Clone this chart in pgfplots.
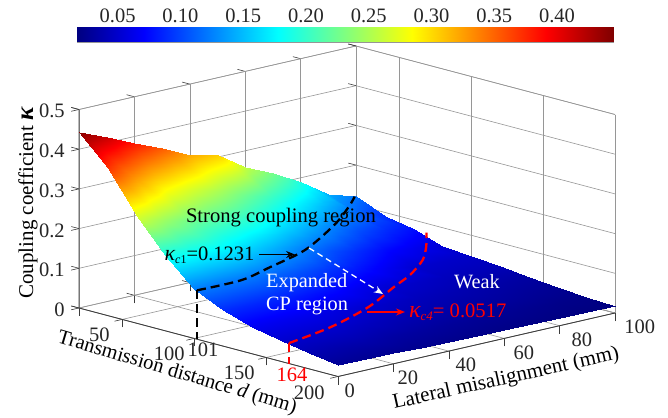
\documentclass[border=0pt]{standalone}
\usepackage{pgfplots}
\pgfplotsset{compat=1.18}
\usepackage{fontspec}
\setmainfont{Liberation Serif}
\usetikzlibrary{arrows.meta}
\definecolor{axdark}{RGB}{60,60,60}
\definecolor{wallgray}{RGB}{150,150,150}
\pgfplotsset{colormap/jet}
\newcommand{\fs}[1]{\fontsize{#1}{#1}\selectfont}
\begin{document}
\begin{tikzpicture}[x=1pt,y=1pt]
\useasboundingbox (0,0) rectangle (668,417);
\begin{axis}[
  at={(79pt,109pt)},anchor=origin,
  disabledatascaling,
  x={(1.439pt,-0.3806pt)},y={(2.77pt,0.635pt)},z={(0pt,397pt)},
  xmin=20,xmax=200,ymin=0,ymax=100,zmin=0,zmax=0.5,
  xtick={50,100,150,200},ytick={0,20,40,60,80,100},ztick={0,0.1,0.2,0.3,0.4,0.5},
  xticklabels={50,100,150,200},yticklabels={0,20,40,60,80,100},zticklabels={0,0.1,0.2,0.3,0.4,0.5},
  xtick pos=lower,ytick pos=lower,ztick pos=left,
  grid=major,
  grid style={wallgray,line width=0.6pt},
  axis line style={wallgray,line width=0.6pt},
  tick style={axdark,line width=0.6pt},
  tick align=outside,major tick length=8pt,
  tick label style={font=\fs{20.5},text=black!85},
  x tick label style={anchor=center,xshift={(-15-2*\ticknum)*1pt},yshift=-14pt},
  y tick label style={anchor=center,xshift={(4+2.6*\ticknum)*1pt},yshift=-12pt},
  z tick label style={anchor=east,xshift=-3pt},
  point meta min=0.0192,point meta max=0.4462,
  clip=false,
]
\addplot3[draw=axdark,line width=0.8pt,forget plot] coordinates {(20,0,0.5)(20,0,0)(200,0,0)(200,100,0)};
\addplot3[surf,shader=interp,mesh/rows=11,mesh/cols=10,point meta=z] coordinates {
(20,0,.443)(40,0,.372)(60,0,.27)(80,0,.19)(100,0,.125)(120,0,.09)(140,0,.067)(160,0,.053)(180,0,.04)(200,0,.028)
(20,10,.415)(40,10,.33)(60,10,.245)(80,10,.185)(100,10,.124)(120,10,.088)(140,10,.066)(160,10,.051)(180,10,.038)(200,10,.027)
(20,20,.383)(40,20,.29)(60,20,.225)(80,20,.18)(100,20,.123)(120,20,.087)(140,20,.065)(160,20,.050)(180,20,.037)(200,20,.026)
(20,30,.355)(40,30,.27)(60,30,.212)(80,30,.163)(100,30,.113)(120,30,.081)(140,30,.059)(160,30,.046)(180,30,.034)(200,30,.025)
(20,40,.322)(40,40,.25)(60,40,.20)(80,40,.145)(100,40,.105)(120,40,.075)(140,40,.053)(160,40,.042)(180,40,.032)(200,40,.024)
(20,50,.306)(40,50,.225)(60,50,.175)(80,50,.125)(100,50,.092)(120,50,.064)(140,50,.048)(160,50,.039)(180,50,.030)(200,50,.023)
(20,60,.26)(40,60,.20)(60,60,.15)(80,60,.105)(100,60,.08)(120,60,.053)(140,60,.044)(160,60,.036)(180,60,.028)(200,60,.022)
(20,70,.228)(40,70,.172)(60,70,.127)(80,70,.09)(100,70,.066)(120,70,.049)(140,70,.041)(160,70,.034)(180,70,.027)(200,70,.021)
(20,80,.19)(40,80,.145)(60,80,.105)(80,80,.075)(100,80,.052)(120,80,.045)(140,80,.038)(160,80,.032)(180,80,.025)(200,80,.02)
(20,90,.144)(40,90,.115)(60,90,.09)(80,90,.065)(100,90,.05)(120,90,.043)(140,90,.035)(160,90,.029)(180,90,.023)(200,90,.019)
(20,100,.121)(40,100,.09)(60,100,.077)(80,100,.055)(100,100,.048)(120,100,.042)(140,100,.033)(160,100,.027)(180,100,.022)(200,100,.018)
};
% contour kappa_c1
\addplot3[black,line width=2.3pt,dash pattern=on 9pt off 5pt,smooth,forget plot] coordinates {
(102,0,0.1231)(102,16,0.1231)(93,31,0.1231)(80,50.5,0.1231)(54,74.6,0.1231)(33,90.7,0.1231)(21,99,0.1231)};
\addplot3[black,line width=2.3pt,dash pattern=on 9pt off 5pt,forget plot] coordinates {(102,0,0.1231)(102,0,0)};
% contour kappa_c4
\addplot3[red,line width=2.3pt,dash pattern=on 9pt off 5pt,smooth,forget plot] coordinates {
(166,0,0.0517)(157,19.7,0.0517)(141,41.6,0.0517)(121,61.2,0.0517)(109,73.3,0.0517)(92,86.7,0.0517)(74,97.3,0.0517)(69,100,0.077)};
\addplot3[red,line width=2.3pt,dash pattern=on 9pt off 5pt,forget plot] coordinates {(166,0,0.0517)(166,0,0)};
\end{axis}
% colour bar
\begin{axis}[
  at={(77pt,375pt)},anchor=south west,
  width=536pt,height=15pt,scale only axis,
  xmin=0.0192,xmax=0.4462,ymin=0,ymax=1,
  xtick={0.05,0.10,0.15,0.20,0.25,0.30,0.35,0.40},
  xticklabels={0.05,0.10,0.15,0.20,0.25,0.30,0.35,0.40},
  ytick=\empty,
  xtick pos=upper,xticklabel pos=upper,
  tick align=inside,major tick length=5pt,
  tick style={axdark,line width=0.6pt},
  axis line style={wallgray,line width=0.8pt},
  xticklabel style={font=\fs{20.5},text=black!85,xshift=2pt,yshift=1pt},
  point meta min=0.0192,point meta max=0.4462,
  colormap/jet,
]
\addplot[surf,shader=interp,mesh/rows=2,mesh/cols=2,point meta=x] coordinates {(0.0192,0)(0.4462,0)(0.0192,1)(0.4462,1)};
\end{axis}
\begin{scope}[shift={(0,417)},y=-1pt]
\node[rotate=90,font=\fs{21}] at (28,203) {Coupling coefficient {\fs{25}\bfseries\itshape κ}};
\node[rotate=-16.5,font=\fs{20.5}] at (177,373) {Transmission distance \textit{d} (mm)};
\node[rotate=12.5,font=\fs{21}] at (506,379) {Lateral misalignment (mm)};
\node[font=\fs{20.6}] at (281,218) {Strong coupling region};
\node[font=\fs{20.5},anchor=east] at (258,255) {{\fs{22}\itshape κ}\raisebox{-3pt}{\fs{12}\itshape c\upshape 1}=0.1231};
\draw[-{Stealth[length=9pt,width=7pt]},black,line width=1.3pt] (259,254.5) -- (295,254.5);
\node[font=\fs{20.3},text=white,align=left,anchor=west,inner sep=0pt] at (266,294) {Expanded\\[2pt]CP region};
\draw[-{Stealth[length=9pt,width=7pt]},white,line width=1.3pt,dash pattern=on 6pt off 4pt] (309,248) -- (383,294);
\node[font=\fs{20.3},text=white] at (477,282) {Weak};
\draw[-{Stealth[length=9pt,width=7pt]},red,line width=1.3pt] (367,312) -- (405,312);
\node[font=\fs{20.6},text=red,anchor=west,inner sep=0pt] at (409,312) {{\fs{24}\itshape κ}\raisebox{-3pt}{\fs{13}\itshape c4}= 0.0517};
\node[font=\fs{20.5},text=black!85] at (203,350) {101};
\node[font=\fs{20.5},text=red] at (292,375) {164};
\end{scope}
\end{tikzpicture}
\end{document}
